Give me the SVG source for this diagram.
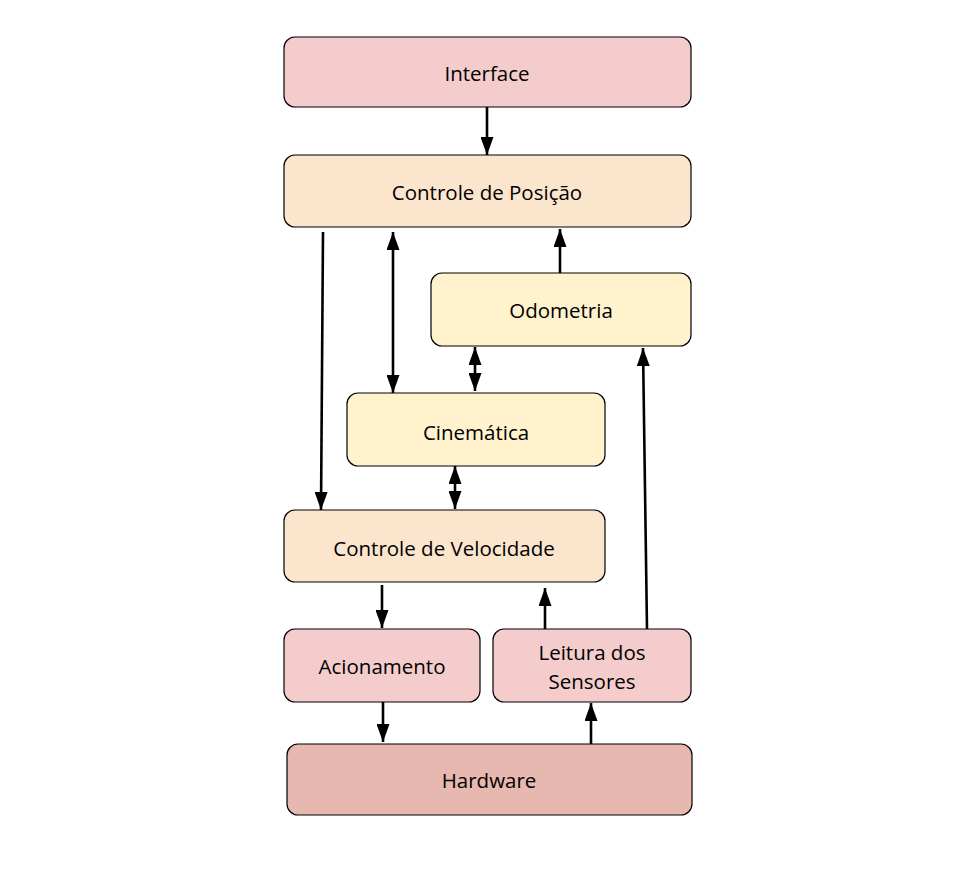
<svg xmlns="http://www.w3.org/2000/svg" width="974" height="870" viewBox="0 0 974 870">
<defs>
<marker id="ah" markerUnits="userSpaceOnUse" markerWidth="18" markerHeight="13" refX="18" refY="6.5" orient="auto-start-reverse">
<path d="M0,0 L18,6.5 L0,13 z" fill="#000"/>
</marker>
<style>
.n{stroke:#000;stroke-width:1.2}
.t{font-family:"Open Sans","Noto Sans",sans-serif;font-size:20.5px;fill:#000;text-anchor:middle;dominant-baseline:central}
.c line{stroke:#000;stroke-width:2.6;marker-end:url(#ah)}
.c line.d{marker-start:url(#ah)}
</style>
</defs>
<rect width="974" height="870" fill="#fff"/>
<g id="interface"><rect class="n" x="284" y="37" width="407" height="70" rx="11" fill="#f4cccc"/><text class="t" x="487" y="73">Interface</text></g>
<g id="controle-posicao"><rect class="n" x="284" y="155" width="407" height="72" rx="11" fill="#fce5cd"/><text class="t" x="487" y="192">Controle de Posição</text></g>
<g id="odometria"><rect class="n" x="431" y="273" width="260" height="73" rx="11" fill="#fff2cc"/><text class="t" x="561" y="310">Odometria</text></g>
<g id="cinematica"><rect class="n" x="347" y="393" width="258" height="73" rx="11" fill="#fff2cc"/><text class="t" x="476" y="432">Cinemática</text></g>
<g id="controle-velocidade"><rect class="n" x="284" y="510" width="321" height="72" rx="11" fill="#fce5cd"/><text class="t" x="444" y="548">Controle de Velocidade</text></g>
<g id="acionamento"><rect class="n" x="284" y="629" width="196" height="73" rx="11" fill="#f4cccc"/><text class="t" x="382" y="666">Acionamento</text></g>
<g id="leitura"><rect class="n" x="493" y="629" width="198" height="73" rx="11" fill="#f4cccc"/><text class="t" x="592" y="652">Leitura dos</text><text class="t" x="592" y="681">Sensores</text></g>
<g id="hardware"><rect class="n" x="287" y="744" width="405" height="71" rx="11" fill="#e6b8af"/><text class="t" x="489" y="780">Hardware</text></g>
<g class="c" id="connectors">
<line x1="487" y1="107" x2="487" y2="155"/>
<line x1="323" y1="232" x2="321" y2="510"/>
<line class="d" x1="393" y1="232" x2="393" y2="393"/>
<line x1="560" y1="273" x2="560" y2="229"/>
<line class="d" x1="475" y1="347" x2="475" y2="391"/>
<line class="d" x1="455" y1="466" x2="455" y2="509"/>
<line x1="647" y1="629" x2="643" y2="348"/>
<line x1="382" y1="585" x2="382" y2="628"/>
<line x1="545" y1="629" x2="545" y2="588"/>
<line x1="383" y1="702" x2="383" y2="742"/>
<line x1="591" y1="744" x2="591" y2="703"/>
</g>
</svg>
